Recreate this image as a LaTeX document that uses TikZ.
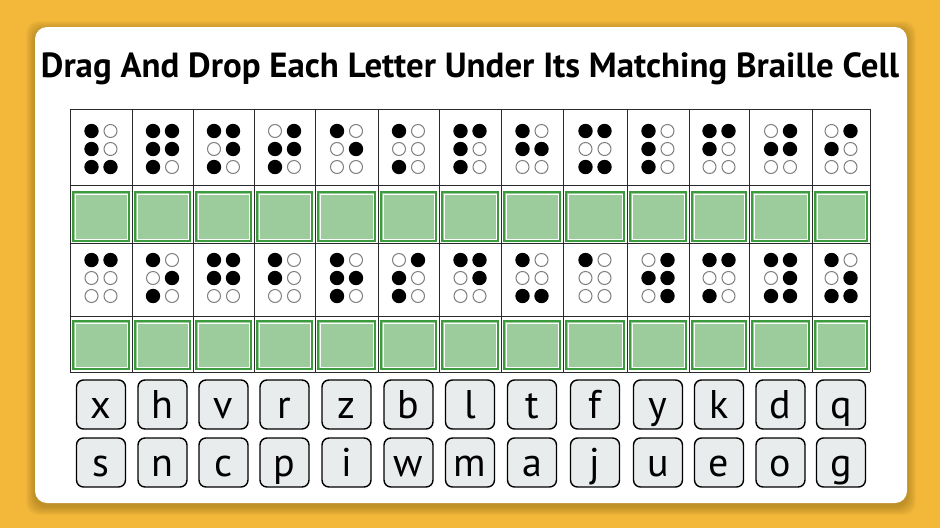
\documentclass[tikz,border=0pt]{standalone}
\usepackage{fontspec}
\setmainfont{PT Sans}
\definecolor{bgorange}{HTML}{F3B83A}
\definecolor{greenfill}{HTML}{9DCC9C}
\definecolor{greenline}{HTML}{3C9B3C}
\definecolor{tilefill}{HTML}{E8ECEC}
\definecolor{gridline}{HTML}{2A2A2A}
\definecolor{opendot}{HTML}{808080}
\newcommand{\bdot}[3]{\ifnum#3=1 \fill[black] (#1,#2) circle[radius=7.2pt];\else \draw[opendot, line width=1pt] (#1,#2) circle[radius=6.5pt];\fi}
\newcommand{\bcell}[8]{% cx, cy, d1..d6
  \bdot{#1-9.5}{#2-18}{#3}\bdot{#1-9.5}{#2}{#4}\bdot{#1-9.5}{#2+18}{#5}%
  \bdot{#1+9.5}{#2-18}{#6}\bdot{#1+9.5}{#2}{#7}\bdot{#1+9.5}{#2+18}{#8}}
\tikzset{
  tilebox/.style={draw=black, line width=1.4pt, fill=tilefill, rounded corners=7pt,
    minimum width=49pt, minimum height=49pt, inner sep=0pt},
  letter/.style={font=\fontsize{40}{46}\selectfont, anchor=base, inner sep=0pt},
  dropbox/.style={fill=greenfill, draw=greenline, line width=2pt},
}
\begin{document}
\begin{tikzpicture}[x=1pt,y=-1pt]
\useasboundingbox (0,0) rectangle (940,528);
\fill[bgorange] (0,0) rectangle (940,528);
% shadow
\foreach \k in {1,...,9}
  \fill[black, opacity=0.022, rounded corners=12pt] (35-\k,28-\k+2) rectangle (907+\k,503+\k+3);
% card
\fill[white, rounded corners=12pt] (35,27) rectangle (907,503);
% title
\node[anchor=base, inner sep=0pt] (title) at (470,77)
  {\resizebox{858pt}{!}{\bfseries\fontsize{25}{30}\selectfont Drag And Drop Each Letter Under Its Matching Braille Cell}};
% drop boxes
\foreach \xa/\xb in {70/132,132/193,193/254,254/315,315/378,378/439,439/501,501/563,563/627,627/689,689/749,749/812,812/870}{
  \draw[dropbox] (\xa+3,192) rectangle (\xb-3,241);
  \draw[white, line width=0.8pt] (\xa+5,194) rectangle (\xb-5,239);
  \draw[dropbox] (\xa+3,321) rectangle (\xb-3,369);
  \draw[white, line width=0.8pt] (\xa+5,323) rectangle (\xb-5,367);
}
% grid
\foreach \y in {109,185,243,316,372}
  \draw[gridline, line width=1pt] (70,\y) -- (870,\y);
\foreach \x in {70,132,193,254,315,378,439,501,563,627,689,749,812,870}
  \draw[gridline, line width=1pt] (\x,109) -- (\x,372);
% braille row 1
\foreach \cx/\a/\b/\c/\d/\e/\f in {
  101/1/1/1/0/0/1, 162.5/1/1/1/1/1/0, 223.5/1/0/1/1/1/0, 284.5/0/1/1/1/1/0,
  346.5/1/0/0/0/1/0, 408.5/1/0/1/0/0/0, 470/1/1/1/1/0/0, 532/1/1/0/0/1/0,
  595/1/0/1/1/0/1, 658/1/1/1/0/0/0, 719/1/1/0/1/0/0, 780.5/0/1/0/1/1/0,
  841/0/1/0/1/0/0}{
  \bcell{\cx}{149}{\a}{\b}{\c}{\d}{\e}{\f}
}
% braille row 2
\foreach \cx/\a/\b/\c/\d/\e/\f in {
  101/1/0/0/1/0/0, 162.5/1/0/1/0/1/0, 223.5/1/1/0/1/1/0, 284.5/1/1/0/0/0/0,
  346.5/1/1/1/0/1/0, 408.5/0/1/1/1/0/0, 470/1/0/0/1/1/0, 532/1/0/1/0/0/1,
  595/1/0/0/0/0/0, 658/0/1/0/1/1/1, 719/1/0/1/1/0/0, 780.5/1/0/1/1/1/1,
  841/1/0/1/0/1/1}{
  \bcell{\cx}{278}{\a}{\b}{\c}{\d}{\e}{\f}
}
% letter tiles
\foreach \cx/\la/\lb [count=\i] in {
  101/x/s, 162.5/h/n, 223.5/v/c, 284.5/r/p, 346.5/z/i, 408.5/b/w, 470/l/m,
  532/t/a, 595/f/j, 658/y/u, 719/k/e, 780.5/d/o, 841/q/g}{
  \node[tilebox] (ta\i) at (\cx,404.5) {};
  \node[letter] (la\i) at (\cx,418) {\la};
  \node[tilebox] (tb\i) at (\cx,462.5) {};
  \node[letter] (lb\i) at (\cx,476) {\lb};
}
\end{tikzpicture}
\end{document}
